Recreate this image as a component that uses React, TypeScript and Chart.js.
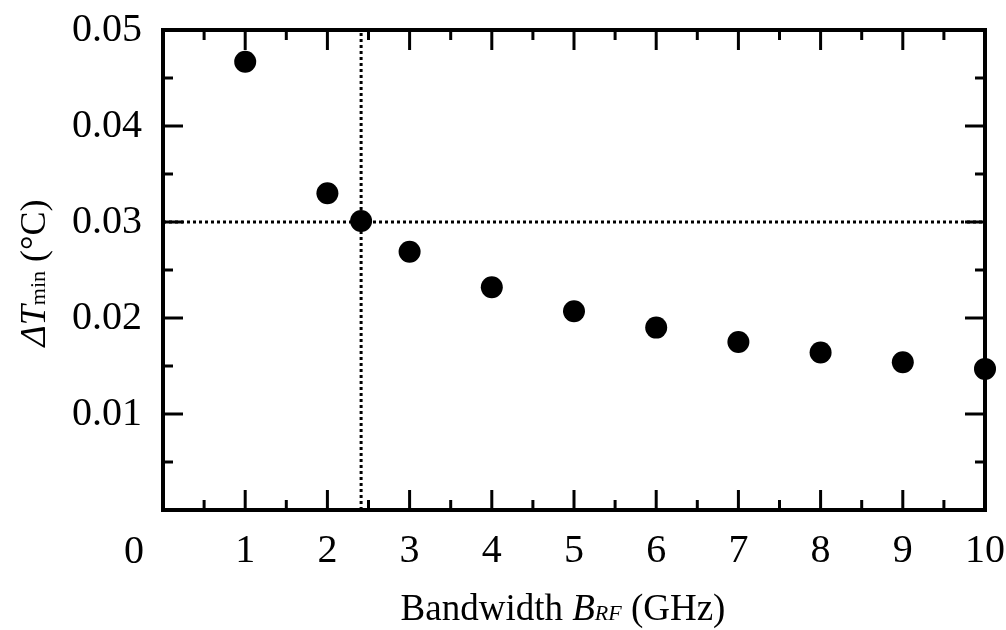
import React, { useEffect, useRef } from 'react';
import { Chart, registerables } from 'chart.js';

Chart.register(...registerables);

// ---- Data ----
const bandwidthGHz = [1, 2, 2.41, 3, 4, 5, 6, 7, 8, 9, 10];
const deltaTmin = [0.0467, 0.033, 0.0301, 0.0269, 0.0232, 0.0207, 0.019, 0.0175, 0.0164, 0.0154, 0.0147];
const thresholdDeltaT = 0.03;
const thresholdBandwidth = 2.41;

// ---- Axes ----
const xMin = 0;
const xMax = 10;
const xMajorStep = 1;
const xMinorStep = 0.5;
const yMin = 0;
const yMax = 0.05;
const yMajorStep = 0.01;
const yMinorStep = 0.005;
const originLabel = '0';

const SERIF = '"Liberation Serif", "Times New Roman", serif';

type Run = { text: string; font: string };

function runsWidth(ctx: CanvasRenderingContext2D, runs: Run[]) {
  let w = 0;
  for (const r of runs) {
    ctx.font = r.font;
    w += ctx.measureText(r.text).width;
  }
  return w;
}

function drawRuns(ctx: CanvasRenderingContext2D, runs: Run[], x: number, y: number) {
  for (const r of runs) {
    ctx.font = r.font;
    ctx.fillText(r.text, x, y);
    x += ctx.measureText(r.text).width;
  }
}

const isMajor = (v: number, step: number) => Math.abs(v / step - Math.round(v / step)) < 1e-6;

const framePlugin = {
  id: 'frameTicks',
  beforeDatasetsDraw(chart: any) {
    const { ctx, chartArea: a, scales } = chart;
    const xs = scales.x;
    const ys = scales.y;
    ctx.save();
    ctx.strokeStyle = '#000';
    ctx.lineCap = 'butt';
    ctx.lineWidth = 3;
    const seg = (x1: number, y1: number, x2: number, y2: number) => {
      ctx.beginPath();
      ctx.moveTo(x1, y1);
      ctx.lineTo(x2, y2);
      ctx.stroke();
    };
    for (let i = 1; xMin + i * xMinorStep < xMax - 1e-9; i++) {
      const v = xMin + i * xMinorStep;
      const len = isMajor(v, xMajorStep) ? 20 : 10;
      const px = xs.getPixelForValue(v);
      seg(px, a.bottom, px, a.bottom - len);
      seg(px, a.top, px, a.top + len);
    }
    for (let i = 1; yMin + i * yMinorStep < yMax - 1e-9; i++) {
      const v = yMin + i * yMinorStep;
      const len = isMajor(v, yMajorStep) ? 20 : 10;
      const py = ys.getPixelForValue(v);
      seg(a.left, py, a.left + len, py);
      seg(a.right, py, a.right - len, py);
    }
    ctx.lineWidth = 4;
    ctx.lineJoin = 'miter';
    ctx.strokeRect(a.left, a.top, a.right - a.left, a.bottom - a.top);
    ctx.restore();
  },
  afterDraw(chart: any) {
    const { ctx, chartArea: a, scales } = chart;
    ctx.save();
    ctx.fillStyle = '#000';
    ctx.textBaseline = 'alphabetic';
    // origin label
    ctx.font = `40px ${SERIF}`;
    ctx.textAlign = 'center';
    ctx.fillText(originLabel, scales.x.getPixelForValue(xMin) - 29, a.bottom + 53);
    ctx.textAlign = 'left';

    // x title
    const xRuns: Run[] = [
      { text: 'Bandwidth ', font: `37px ${SERIF}` },
      { text: 'B', font: `italic 37px ${SERIF}` },
      { text: 'RF', font: `italic 22px ${SERIF}` },
      { text: ' (GHz)', font: `37px ${SERIF}` },
    ];
    const xw = runsWidth(ctx, xRuns);
    drawRuns(ctx, xRuns, 563 - xw / 2, 620);

    // y title
    const yRuns: Run[] = [
      { text: '\u0394T', font: `italic 36px ${SERIF}` },
      { text: 'min', font: `22px ${SERIF}` },
      { text: ' (\u00B0C)', font: `36px ${SERIF}` },
    ];
    const yw = runsWidth(ctx, yRuns);
    ctx.translate(45, 273);
    ctx.rotate(-Math.PI / 2);
    drawRuns(ctx, yRuns, -yw / 2, 0);
    ctx.restore();
  },
};

const zeroPadding = (s: any) => {
  s.paddingTop = 0;
  s.paddingBottom = 0;
  s.paddingLeft = 0;
  s.paddingRight = 0;
};

export default function App() {
  const ref = useRef<HTMLCanvasElement | null>(null);

  useEffect(() => {
    document.body.style.margin = '0';
    const canvas = ref.current;
    if (!canvas) return;
    const chart = new Chart(canvas, {
      type: 'scatter',
      data: {
        datasets: [
          {
            label: 'ΔTmin',
            data: bandwidthGHz.map((b, i) => ({ x: b, y: deltaTmin[i] })),
            backgroundColor: '#000',
            borderColor: '#000',
            pointRadius: 11,
            pointHoverRadius: 11,
            pointBorderWidth: 0,
            clip: false,
          },
          {
            label: 'threshold T',
            data: [
              { x: xMin, y: thresholdDeltaT },
              { x: xMax, y: thresholdDeltaT },
            ],
            showLine: true,
            borderColor: '#000',
            borderWidth: 3,
            borderDash: [3, 3],
            pointRadius: 0,
            fill: false,
          },
          {
            label: 'threshold B',
            data: [
              { x: thresholdBandwidth, y: yMin },
              { x: thresholdBandwidth, y: yMax },
            ],
            showLine: true,
            borderColor: '#000',
            borderWidth: 3,
            borderDash: [3, 3],
            pointRadius: 0,
            fill: false,
          },
        ],
      } as any,
      options: {
        animation: false,
        responsive: false,
        events: [],
        layout: { padding: { left: 0, right: 21, top: 30, bottom: 0 } },
        plugins: { legend: { display: false }, tooltip: { enabled: false } },
        scales: {
          x: {
            type: 'linear',
            min: xMin,
            max: xMax,
            grid: { display: false, drawTicks: false },
            border: { display: false },
            ticks: {
              stepSize: xMajorStep,
              padding: 17,
              color: '#000',
              font: { family: SERIF, size: 40 },
              maxRotation: 0,
              autoSkip: false,
              callback: (v: any) => (Number(v) === xMin ? '' : String(v)),
            },
            afterFit: (s: any) => {
              s.height = 120;
              zeroPadding(s);
            },
          },
          y: {
            type: 'linear',
            min: yMin,
            max: yMax,
            grid: { display: false, drawTicks: false },
            border: { display: false },
            ticks: {
              stepSize: yMajorStep,
              padding: 21,
              color: '#000',
              font: { family: SERIF, size: 40 },
              callback: (v: any) => (Number(v) === yMin ? '' : Number(v).toFixed(2)),
            },
            afterFit: (s: any) => {
              s.width = 163;
              zeroPadding(s);
            },
          },
        },
      },
      plugins: [framePlugin],
    } as any);
    return () => chart.destroy();
  }, []);

  return (
    <div style={{ width: 1006, height: 630 }}>
      <canvas ref={ref} width={1006} height={630} style={{ display: 'block' }} />
    </div>
  );
}
